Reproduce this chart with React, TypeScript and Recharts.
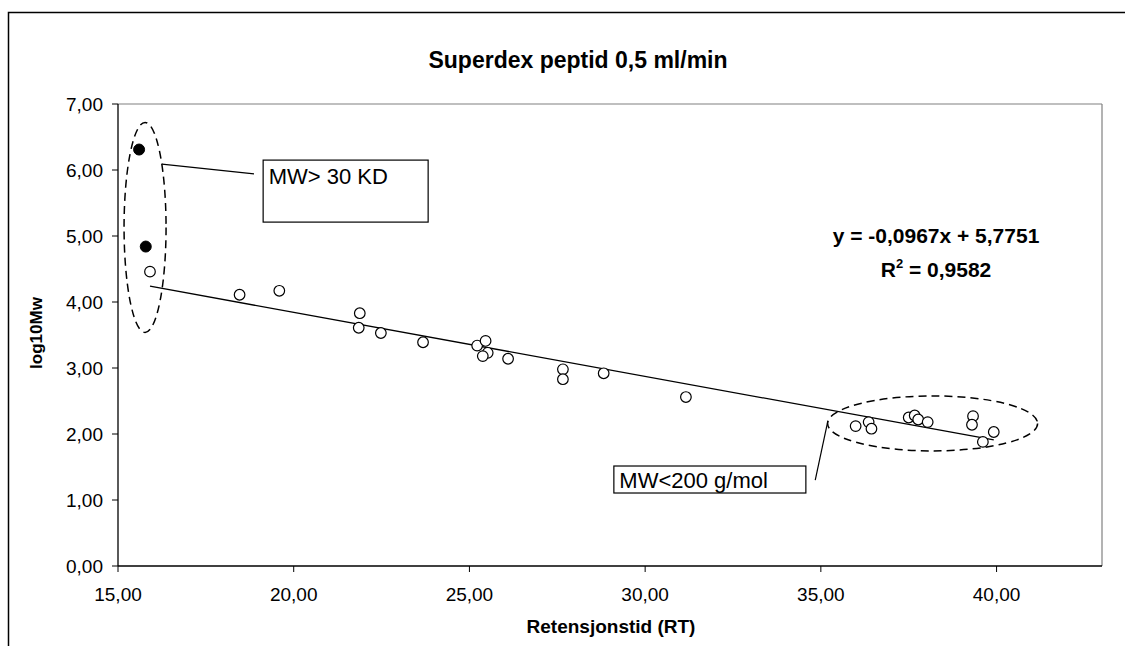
import {
  ScatterChart,
  Scatter,
  XAxis,
  YAxis,
  ReferenceLine,
  ReferenceDot,
} from "recharts";

// data
const filledX = [15.6, 15.79];
const filledY = [6.31, 4.84];

const openX = [
  15.91, 18.46, 19.59, 21.88, 21.85, 22.48, 23.68, 25.22, 25.46, 25.52, 25.38,
  26.1, 27.66, 27.66, 28.82, 31.16, 35.99, 36.36, 36.44, 37.5, 37.67, 37.77,
  38.04, 39.33, 39.3, 39.92, 39.61,
];
const openY = [
  4.46, 4.11, 4.17, 3.83, 3.61, 3.53, 3.39, 3.34, 3.41, 3.23, 3.18, 3.14, 2.98,
  2.83, 2.92, 2.56, 2.12, 2.18, 2.08, 2.25, 2.28, 2.22, 2.18, 2.27, 2.14, 2.03,
  1.88,
];

// trendline end points (y = -0,0967x + 5,7751)
const trendX = [15.91, 39.92];
const trendY = [4.24, 1.91];

const xTicks = [15, 20, 25, 30, 35, 40];
const yTicks = [0, 1, 2, 3, 4, 5, 6, 7];

const filled = filledX.map((x, i) => ({ x, y: filledY[i] }));
const open = openX.map((x, i) => ({ x, y: openY[i] }));
const trend = trendX.map((x, i) => ({ x, y: trendY[i] }));

const fmt = (v: number) => v.toFixed(2).replace(".", ",");
const FONT = '"Liberation Sans", Arial, sans-serif';

const W = 1125;
const H = 646;

const OpenDot = (p: any) => (
  <circle cx={p.cx} cy={p.cy} r={5.3} fill="#fff" stroke="#000" strokeWidth={1.2} />
);
const FilledDot = (p: any) => (
  <circle cx={p.cx} cy={p.cy} r={5.5} fill="#000" stroke="#000" strokeWidth={1} />
);

const dashedEllipse = (rx: number, ry: number) => (p: any) => (
  <ellipse
    cx={p.cx}
    cy={p.cy}
    rx={rx}
    ry={ry}
    fill="none"
    stroke="#000"
    strokeWidth={1.5}
    strokeDasharray="8 5"
  />
);

const textBox = (w: number, h: number, text: string, dx: number, dy: number) => (p: any) => (
  <g>
    <rect x={p.cx} y={p.cy} width={w} height={h} fill="#fff" stroke="#000" strokeWidth={1.2} />
    <text x={p.cx + dx} y={p.cy + dy} fontFamily={FONT} fontSize={22} fill="#000">
      {text}
    </text>
  </g>
);

export default function App() {
  return (
    <div
      style={{
        position: "absolute",
        left: 0,
        top: 0,
        width: W,
        height: H,
        background: "#fff",
        overflow: "hidden",
        fontFamily: FONT,
      }}
    >
      <ScatterChart width={W} height={H} margin={{ top: 104, right: 23, bottom: 0, left: 0 }}>
        <XAxis
          type="number"
          dataKey="x"
          domain={[15, 43]}
          ticks={xTicks}
          interval={0}
          tickFormatter={fmt}
          allowDataOverflow
          height={80}
          tickSize={6}
          tickMargin={16}
          stroke="#000"
          axisLine={{ stroke: "#000", strokeWidth: 1.3 }}
          tick={{ fill: "#000", fontSize: 19, fontFamily: FONT }}
        />
        <YAxis
          type="number"
          dataKey="y"
          domain={[0, 7]}
          ticks={yTicks}
          interval={0}
          tickFormatter={fmt}
          allowDataOverflow
          width={118}
          tickSize={6}
          tickMargin={9}
          stroke="#000"
          axisLine={{ stroke: "#000", strokeWidth: 1.3 }}
          tick={{ fill: "#000", fontSize: 19, fontFamily: FONT }}
        />
        <ReferenceLine y={7} stroke="#808080" strokeWidth={1.2} />
        <ReferenceLine x={43} stroke="#808080" strokeWidth={1.2} />

        <ReferenceLine
          segment={[
            { x: 16.25, y: 6.09 },
            { x: 18.87, y: 5.94 },
          ]}
          stroke="#000"
          strokeWidth={1.2}
        />
        <ReferenceLine
          segment={[
            { x: 34.84, y: 1.3 },
            { x: 35.2, y: 2.2 },
          ]}
          stroke="#000"
          strokeWidth={1.2}
        />
        <ReferenceDot x={15.77} y={5.13} shape={dashedEllipse(21, 105)} />
        <ReferenceDot x={38.18} y={2.16} shape={dashedEllipse(105, 27.5)} />
        <ReferenceDot x={19.13} y={6.15} shape={textBox(165, 62, "MW> 30 KD", 5.6, 24)} />
        <ReferenceDot x={29.11} y={1.515} shape={textBox(192, 27, "MW<200 g/mol", 5.5, 22)} />

        <Scatter
          data={trend}
          line={{ stroke: "#000", strokeWidth: 1.3 }}
          shape={() => null}
          isAnimationActive={false}
        />
        <Scatter data={open} shape={OpenDot} isAnimationActive={false} />
        <Scatter data={filled} shape={FilledDot} isAnimationActive={false} />
      </ScatterChart>

      <svg
        width={W}
        height={H}
        style={{ position: "absolute", left: 0, top: 0, pointerEvents: "none" }}
      >
        <rect x={8.5} y={12.5} width={1300} height={800} fill="none" stroke="#000" strokeWidth={1.5} />
        <text x={578} y={68} textAnchor="middle" fontFamily={FONT} fontWeight="bold" fontSize={23} fill="#000">
          Superdex peptid 0,5 ml/min
        </text>
        <text x={936} y={243} textAnchor="middle" fontFamily={FONT} fontWeight="bold" fontSize={21} fill="#000">
          y = -0,0967x + 5,7751
        </text>
        <text x={936} y={277} textAnchor="middle" fontFamily={FONT} fontWeight="bold" fontSize={21} fill="#000">
          R<tspan fontSize={13} dy={-9}>2</tspan>
          <tspan dy={9}> = 0,9582</tspan>
        </text>
        <text x={611} y={633} textAnchor="middle" fontFamily={FONT} fontWeight="bold" fontSize={19} fill="#000">
          Retensjonstid (RT)
        </text>
        <text
          transform="translate(42,333) rotate(-90)"
          textAnchor="middle"
          fontFamily={FONT}
          fontWeight="bold"
          fontSize={17}
          fill="#000"
        >
          log10Mw
        </text>
      </svg>
    </div>
  );
}
